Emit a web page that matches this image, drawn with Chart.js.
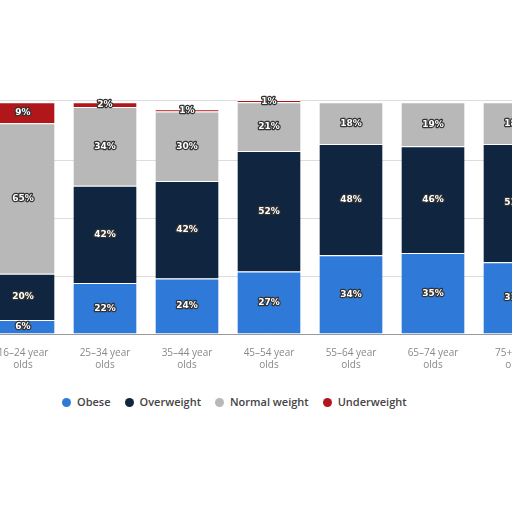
<!DOCTYPE html>
<html><head><script src="https://cdn.jsdelivr.net/npm/chart.js"></script>
<style>
body{margin:0;background:#fff;width:512px;height:512px;overflow:hidden;position:relative;font-family:"Open Sans",sans-serif}
#wrap{position:absolute;left:-18px;top:0;width:574px;height:376px}
#legend{position:absolute;top:394px;left:62px;font-size:11px;color:#444;font-weight:600;display:flex;gap:14px}
#legend span i{display:inline-block;width:9px;height:9px;border-radius:50%;margin-right:6px;vertical-align:-1px}
</style></head><body>
<div id="wrap"><canvas id="c"></canvas></div>
<div id="legend"></div>
<script>
const categories=[["16–24 year","olds"],["25–34 year","olds"],["35–44 year","olds"],["45–54 year","olds"],["55–64 year","olds"],["65–74 year","olds"],["75+ year","olds"]];
const obese=[6,22,24,27,34,35,31];
const overweight=[20,42,42,52,48,46,51];
const normalWeight=[65,34,30,21,18,19,18];
const underweight=[9,2,1,1,0,0,0];
const names=["Obese","Overweight","Normal weight","Underweight"];
const colors=["#2f7ad8","#0f2540","#b8b8b8","#b0161a"];
document.getElementById('legend').innerHTML=names.map((n,i)=>`<span><i style="background:${colors[i]}"></i>${n}</span>`).join('');
const labelPlugin={id:'lbl',afterDatasetsDraw(ch){const ctx=ch.ctx;ctx.save();ctx.font='bold 9px "DejaVu Sans"';ctx.textAlign='center';ctx.textBaseline='middle';ctx.lineJoin='round';
ch.data.datasets.forEach((ds,di)=>{ch.getDatasetMeta(di).data.forEach((el,i)=>{const v=ds.data[i];if(!v)return;const y=(el.y+el.base)/2;const t=v+'%';ctx.lineWidth=2.5;ctx.strokeStyle='#333';ctx.strokeText(t,el.x,y);ctx.fillStyle='#fff';ctx.fillText(t,el.x,y);});});ctx.restore();}};
new Chart(document.getElementById('c'),{type:'bar',
data:{labels:categories,datasets:[obese,overweight,normalWeight,underweight].map((d,i)=>({label:names[i],data:d,backgroundColor:colors[i],borderColor:'#fff',borderWidth:{top:1},borderSkipped:'bottom',categoryPercentage:1,barPercentage:0.77}))},
options:{responsive:true,maintainAspectRatio:false,animation:false,layout:{padding:{top:100,left:0,right:0,bottom:0}},
plugins:{legend:{display:false},tooltip:{enabled:false}},
scales:{x:{stacked:true,grid:{display:false},border:{color:'#999'},ticks:{color:'#888',font:{size:10,family:'"Open Sans"'},padding:5,maxRotation:0}},
y:{stacked:true,display:true,min:0,max:101,ticks:{display:false,stepSize:25},border:{display:false},grid:{color:'#ddd',borderDash:[1,2],drawTicks:false}}}},
plugins:[labelPlugin]});
</script></body></html>
